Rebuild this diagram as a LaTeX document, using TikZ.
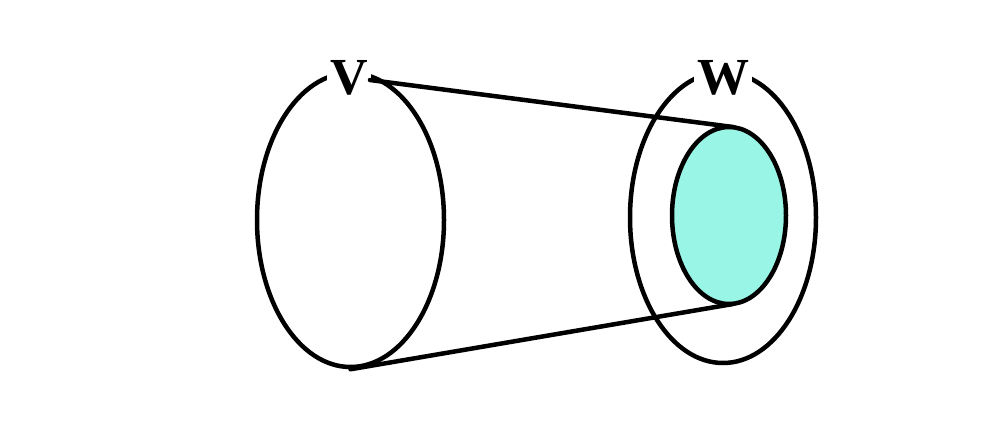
\documentclass[tikz,border=0pt]{standalone}
\usepackage{fontspec}
\setmainfont{Liberation Serif}
\usetikzlibrary{shapes.geometric}
\definecolor{aqua}{RGB}{153,245,230}
\tikzset{
  ring/.style={draw=black, line width=4.5pt, ellipse, inner sep=0pt},
  lbl/.style={fill=white, inner sep=3pt, font=\fontsize{52}{52}\selectfont\bfseries},
  edge/.style={draw=black, line width=4.5pt, line cap=round}
}
\begin{document}
\begin{tikzpicture}[x=1pt,y=-1pt]
\useasboundingbox[fill=white] (0,0) rectangle (1002,434);
\node[ring, minimum width=187pt, minimum height=294pt] (Vset) at (350.5,220) {};
\node[ring, minimum width=186pt, minimum height=291pt] (Wset) at (723,217.5) {};
\node[ring, fill=aqua, minimum width=114pt, minimum height=177pt] (img) at (729,215.5) {};
\node[lbl] (V) at (349,78) {V};
\node[lbl] (W) at (723,78) {W};
\coordinate (vstart) at (370,80);
\coordinate (itop) at (733,127);
\coordinate (ibot) at (733,304);
\draw[edge] (vstart) -- (itop);
\draw[edge] (Vset.south) -- (ibot);
\end{tikzpicture}
\end{document}
